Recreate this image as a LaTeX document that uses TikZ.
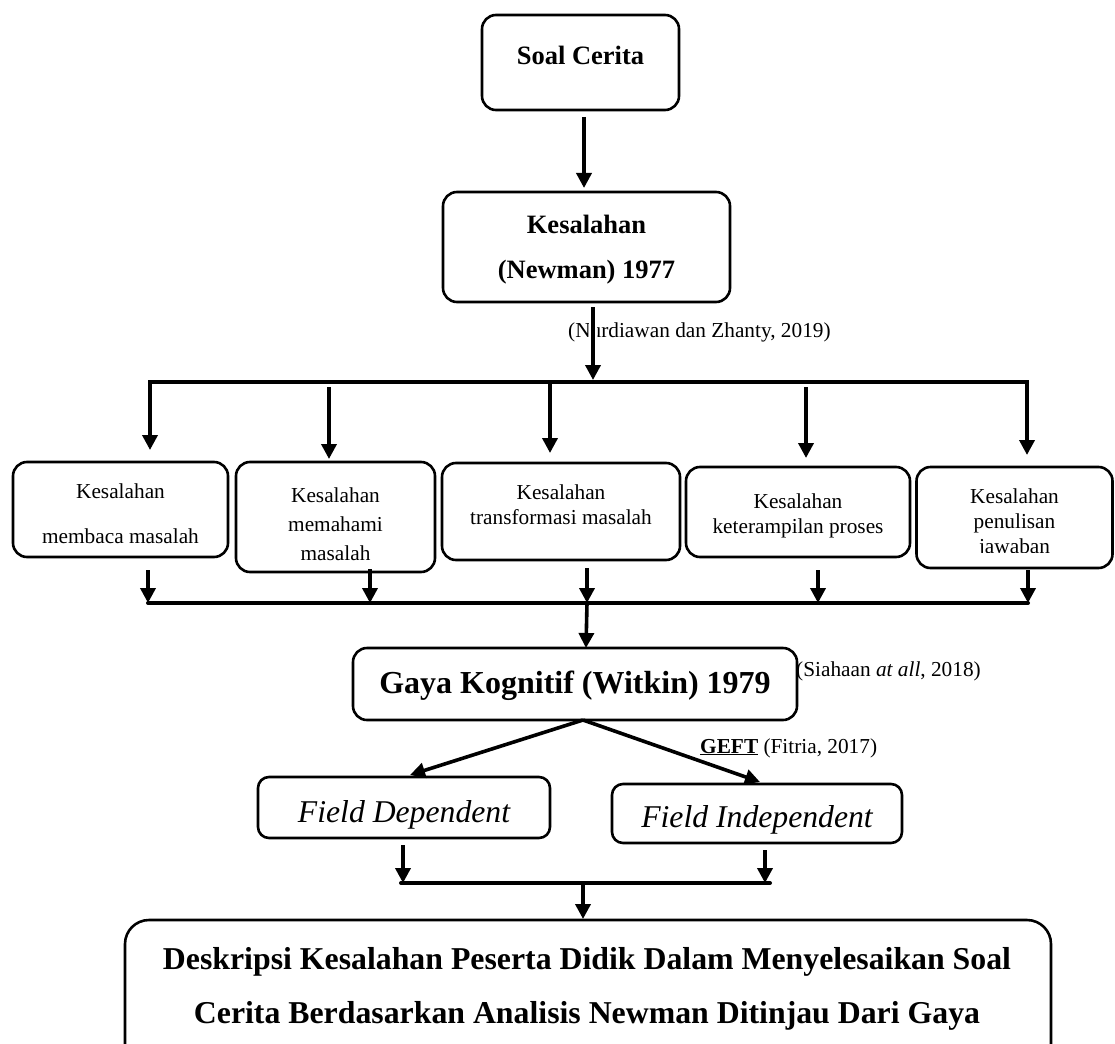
\documentclass[tikz,border=0pt]{standalone}
\usepackage{fontspec}
\setmainfont{Liberation Serif}
\usetikzlibrary{arrows.meta}
\begin{document}
\begin{tikzpicture}[x=1pt,y=-1pt,
  box/.style={draw, line width=2.6pt, rounded corners=14pt, inner sep=0pt},
  arr/.style={line width=3.6pt, -{Triangle[width=15pt,length=15pt]}},
  bus/.style={line width=4pt, line cap=round},
  sm/.style={font=\fontsize{21.3}{24}\selectfont, inner sep=0pt, anchor=base},
  bd/.style={font=\fontsize{26.5}{30}\selectfont\bfseries, inner sep=0pt, anchor=base},
  big/.style={font=\fontsize{32}{36}\selectfont\bfseries, inner sep=0pt, anchor=base},
  itl/.style={font=\fontsize{31.7}{36}\selectfont\itshape, inner sep=0pt, anchor=base}]
\useasboundingbox (0,0) rectangle (1115,1043);
\clip (0,0) rectangle (1115,1043);

% citation partly under the box edge
\node[sm, anchor=base west] (tsia) at (796,676) {(Siahaan \textit{at all}, 2018)};

% boxes
\node[box, minimum width=197pt, minimum height=95pt] (soal) at (580.5,62.5) {};
\node[box, minimum width=287pt, minimum height=110pt] (newman) at (586.5,247) {};
\node[box, minimum width=215pt, minimum height=95pt] (b1) at (120.5,509.5) {};
\node[box, minimum width=199pt, minimum height=110pt] (b2) at (335.5,517) {};
\node[box, minimum width=238pt, minimum height=97pt] (b3) at (561,511.5) {};
\node[box, minimum width=224pt, minimum height=90pt] (b4) at (798,512) {};
\node[box, minimum width=196pt, minimum height=101pt] (b5) at (1014.5,517.5) {};
\node[box, minimum width=444pt, minimum height=72pt] (gaya) at (575,684) {};
\node[box, minimum width=292pt, minimum height=61pt, rounded corners=11pt] (fd) at (404,807.5) {};
\node[box, minimum width=290pt, minimum height=59pt, rounded corners=11pt] (fi) at (757,813.5) {};
\node[box, minimum width=926pt, minimum height=160pt, rounded corners=24pt] (desk) at (588,1000) {};

% texts
\node[bd] (tsoal) at (580.5,65) {Soal Cerita};
\node[bd] (tn1) at (586.5,233) {Kesalahan};
\node[bd] (tn2) at (586.5,278) {(Newman) 1977};
\node[sm, anchor=base west] (tcit) at (568,337) {(Nurdiawan dan Zhanty, 2019)};
\node[sm] (t11) at (120.5,498) {Kesalahan};
\node[sm] (t12) at (120.5,543) {membaca masalah};
\node[sm] (t21) at (335.5,502) {Kesalahan};
\node[sm] (t22) at (335.5,531) {memahami};
\node[sm] (t23) at (335.5,560) {masalah};
\node[sm] (t31) at (561,499) {Kesalahan};
\node[sm] (t32) at (561,524) {transformasi masalah};
\node[sm] (t41) at (798,508) {Kesalahan};
\node[sm] (t42) at (798,533) {keterampilan proses};
\node[sm] (t51) at (1014.5,503) {Kesalahan};
\node[sm] (t52) at (1014.5,528) {penulisan};
\begin{scope}
\clip (917,530) rectangle (1112,552);
\node[sm] (t53) at (1014.5,553) {jawaban};
\end{scope}
\node[big] (tgaya) at (575,693) {Gaya Kognitif (Witkin) 1979};
\node[sm, anchor=base west] (tgeft) at (700,753) {\underline{\textbf{GEFT}} (Fitria, 2017)};
\node[itl] (tfd) at (404,822) {Field Dependent};
\node[itl] (tfi) at (757,827) {Field Independent};
\node[big, font=\fontsize{31.8}{36}\selectfont\bfseries] (td1) at (587,969) {Deskripsi Kesalahan Peserta Didik Dalam Menyelesaikan Soal};
\node[big, font=\fontsize{31.8}{36}\selectfont\bfseries] (td2) at (587,1023) {Cerita Berdasarkan Analisis Newman Ditinjau Dari Gaya};

% connectors
\coordinate (a1s) at (584,117);
\coordinate (a1e) at (584,188);
\draw[arr] (a1s) -- (a1e);

\coordinate (a2s) at (593,307);
\coordinate (a2e) at (593,380);
\draw[arr, preaction={draw=white, line width=8pt, shorten >=20pt}] (a2s) -- (a2e);

\coordinate (bus1L) at (150,382);
\coordinate (bus1R) at (1027,382);
\draw[bus] (bus1L) -- (bus1R);

\foreach \n/\x/\ys/\ye in {1/150/380/450, 2/329/387/459, 3/550/380/453, 4/806/387/458, 5/1027/380/455}{
  \coordinate (ds\n) at (\x,\ys);
  \coordinate (de\n) at (\x,\ye);
  \draw[arr] (ds\n) -- (de\n);
}

\foreach \n/\x/\ys in {1/148/570, 2/370/569, 3/587/568, 4/818/570, 5/1028/570}{
  \coordinate (us\n) at (\x,\ys);
  \coordinate (ue\n) at (\x,603);
  \draw[arr] (us\n) -- (ue\n);
}
\coordinate (bus2L) at (148,603);
\coordinate (bus2R) at (1028,603);
\draw[bus] (bus2L) -- (bus2R);

\coordinate (gs) at (587,603);
\coordinate (ge) at (586,648);
\draw[arr] (gs) -- (ge);

\coordinate (gbot) at (583,720);
\coordinate (fdtip) at (410,775);
\coordinate (fitip) at (760,782);
\draw[arr] (gbot) -- (fdtip);
\draw[arr] (gbot) -- (fitip);

\coordinate (fds) at (403,845);
\coordinate (fde) at (403,883);
\coordinate (fis) at (765,850);
\coordinate (fie) at (765,883);
\draw[arr] (fds) -- (fde);
\draw[arr] (fis) -- (fie);
\coordinate (bus3L) at (401,883);
\coordinate (bus3R) at (770,883);
\draw[bus] (bus3L) -- (bus3R);

\coordinate (ds) at (583,883);
\coordinate (de) at (583,919);
\draw[arr] (ds) -- (de);
\end{tikzpicture}
\end{document}
